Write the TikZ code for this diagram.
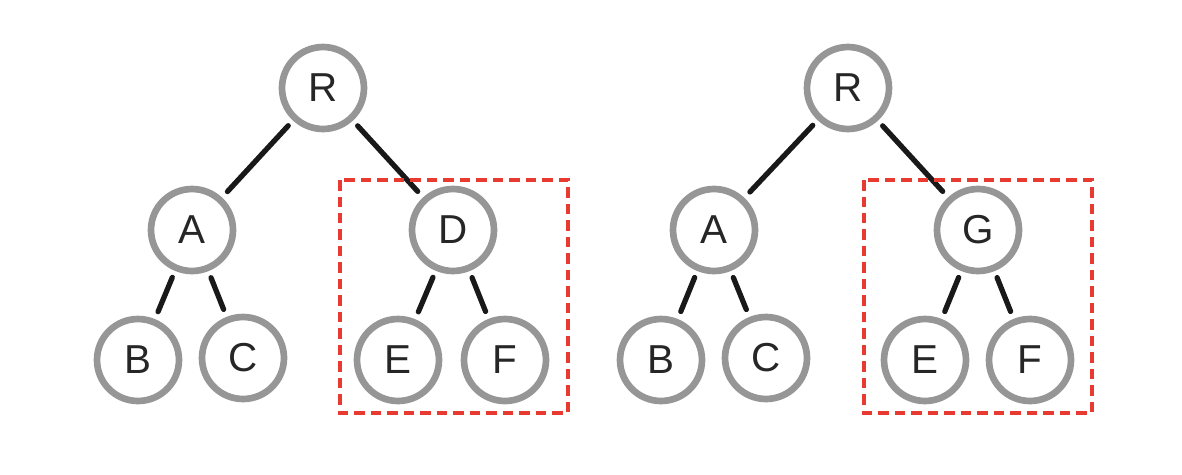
\documentclass[tikz,border=0pt]{standalone}
\usepackage{fontspec}
\setmainfont{Liberation Sans}
\definecolor{ringgray}{RGB}{150,150,150}
\definecolor{boxred}{RGB}{232,58,48}
\begin{document}
\begin{tikzpicture}[x=0.02cm,y=-0.02cm,
  tnode/.style={circle,draw=ringgray,line width=3.8pt,minimum size=1.64cm,inner sep=0pt,
    font=\fontsize{23}{26}\selectfont,text=black!85},
  tedge/.style={line width=3pt,line cap=round,black!90,shorten <=0.14cm,shorten >=0.16cm},
  subbox/.style={draw=boxred,line width=2pt,dash pattern=on 0.21cm off 0.12cm}]
\useasboundingbox (0,0) rectangle (1182,474);

% first tree
\node[tnode] (r1) at (323,88) {R};
\node[tnode] (a1) at (192,230) {A};
\node[tnode] (d1) at (453,230) {D};
\node[tnode] (b1) at (138,360) {B};
\node[tnode] (c1) at (243,358) {C};
\node[tnode] (e1) at (398,360) {E};
\node[tnode] (f1) at (505,360) {F};

\draw[tedge] (r1) -- (a1);
\draw[tedge] (r1) -- (d1);
\draw[tedge] (a1) -- (b1);
\draw[tedge] (a1) -- (c1);
\draw[tedge] (d1) -- (e1);
\draw[tedge] (d1) -- (f1);

\draw[subbox] (340,180) rectangle (568,413);

% second tree
\node[tnode] (r2) at (848,88) {R};
\node[tnode] (a2) at (714,230) {A};
\node[tnode] (g2) at (978,230) {G};
\node[tnode] (b2) at (661,360) {B};
\node[tnode] (c2) at (766,358) {C};
\node[tnode] (e2) at (925,360) {E};
\node[tnode] (f2) at (1030,360) {F};

\draw[tedge] (r2) -- (a2);
\draw[tedge] (r2) -- (g2);
\draw[tedge] (a2) -- (b2);
\draw[tedge] (a2) -- (c2);
\draw[tedge] (g2) -- (e2);
\draw[tedge] (g2) -- (f2);

\draw[subbox] (864,180) rectangle (1092,413);
\end{tikzpicture}
\end{document}
